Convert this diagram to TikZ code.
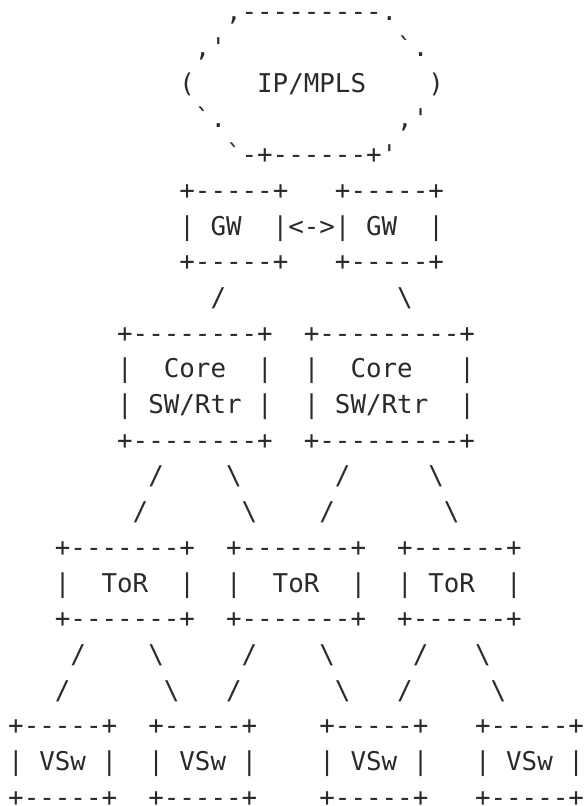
\documentclass[tikz,border=0pt]{standalone}
\usepackage{fontspec}
\newfontfamily\ascfont{DejaVu Sans Mono}
\definecolor{ink}{HTML}{2A2A2A}
\tikzset{asc/.style={inner sep=0pt, outer sep=0pt, anchor=base west, text=ink,
  font=\ascfont\fontsize{25.85}{30}\selectfont}}
\newcommand\At[4]{\node[asc] (#1) at ({8.22+15.56*(#2)},{785.1-35.7*((#3)-1)}) {#4};}
\newcommand\bs{\textbackslash}
\begin{document}
\begin{tikzpicture}[x=1pt,y=1pt]
\useasboundingbox (0,0) rectangle (584,806);
% IP/MPLS cloud
\At{mplsT}{14}{1}{,---------.}
\At{mplsNW}{12}{2}{,'}
\At{mplsNE}{25}{2}{`.}
\At{mplsW}{11}{3}{(}
\At{mpls}{16}{3}{IP/MPLS}
\At{mplsE}{27}{3}{)}
\At{mplsSW}{12}{4}{`.}
\At{mplsSE}{25}{4}{,'}
\At{mplsB}{14}{5}{`-+------+'}
% GW boxes
\At{gwAt}{11}{6}{+-----+}
\At{gwBt}{21}{6}{+-----+}
\At{gwAl}{11}{7}{|}
\At{gwA}{13}{7}{GW}
\At{gwlink}{17}{7}{|<->|}
\At{gwB}{23}{7}{GW}
\At{gwBr}{27}{7}{|}
\At{gwAb}{11}{8}{+-----+}
\At{gwBb}{21}{8}{+-----+}
% GW - Core links
\At{lgA}{13}{9}{/}
\At{lgB}{25}{9}{\bs}
% Core boxes
\At{coreAt}{7}{10}{+--------+}
\At{coreBt}{19}{10}{+---------+}
\At{coreAl1}{7}{11}{|}
\At{coreA1}{10}{11}{Core}
\At{coreAr1}{16}{11}{|}
\At{coreBl1}{19}{11}{|}
\At{coreB1}{22}{11}{Core}
\At{coreBr1}{29}{11}{|}
\At{coreAl2}{7}{12}{|}
\At{coreA2}{9}{12}{SW/Rtr}
\At{coreAr2}{16}{12}{|}
\At{coreBl2}{19}{12}{|}
\At{coreB2}{21}{12}{SW/Rtr}
\At{coreBr2}{29}{12}{|}
\At{coreAb}{7}{13}{+--------+}
\At{coreBb}{19}{13}{+---------+}
% Core - ToR links
\At{lc1a}{9}{14}{/}
\At{lc2a}{14}{14}{\bs}
\At{lc3a}{21}{14}{/}
\At{lc4a}{27}{14}{\bs}
\At{lc1b}{8}{15}{/}
\At{lc2b}{15}{15}{\bs}
\At{lc3b}{20}{15}{/}
\At{lc4b}{28}{15}{\bs}
% ToR boxes
\At{torAt}{3}{16}{+-------+}
\At{torBt}{14}{16}{+-------+}
\At{torCt}{25}{16}{+------+}
\At{torAl}{3}{17}{|}
\At{torA}{6}{17}{ToR}
\At{torAr}{11}{17}{|}
\At{torBl}{14}{17}{|}
\At{torB}{17}{17}{ToR}
\At{torBr}{22}{17}{|}
\At{torCl}{25}{17}{|}
\At{torC}{27}{17}{ToR}
\At{torCr}{32}{17}{|}
\At{torAb}{3}{18}{+-------+}
\At{torBb}{14}{18}{+-------+}
\At{torCb}{25}{18}{+------+}
% ToR - VSw links
\At{lt1a}{4}{19}{/}
\At{lt2a}{9}{19}{\bs}
\At{lt3a}{15}{19}{/}
\At{lt4a}{20}{19}{\bs}
\At{lt5a}{26}{19}{/}
\At{lt6a}{30}{19}{\bs}
\At{lt1b}{3}{20}{/}
\At{lt2b}{10}{20}{\bs}
\At{lt3b}{14}{20}{/}
\At{lt4b}{21}{20}{\bs}
\At{lt5b}{25}{20}{/}
\At{lt6b}{31}{20}{\bs}
% VSw boxes
\At{vsAt}{0}{21}{+-----+}
\At{vsBt}{9}{21}{+-----+}
\At{vsCt}{20}{21}{+-----+}
\At{vsDt}{30}{21}{+-----+}
\At{vsAl}{0}{22}{|}
\At{vsA}{2}{22}{VSw}
\At{vsAr}{6}{22}{|}
\At{vsBl}{9}{22}{|}
\At{vsB}{11}{22}{VSw}
\At{vsBr}{15}{22}{|}
\At{vsCl}{20}{22}{|}
\At{vsC}{22}{22}{VSw}
\At{vsCr}{26}{22}{|}
\At{vsDl}{30}{22}{|}
\At{vsD}{32}{22}{VSw}
\At{vsDr}{36}{22}{|}
\At{vsAb}{0}{23}{+-----+}
\At{vsBb}{9}{23}{+-----+}
\At{vsCb}{20}{23}{+-----+}
\At{vsDb}{30}{23}{+-----+}
\end{tikzpicture}
\end{document}
